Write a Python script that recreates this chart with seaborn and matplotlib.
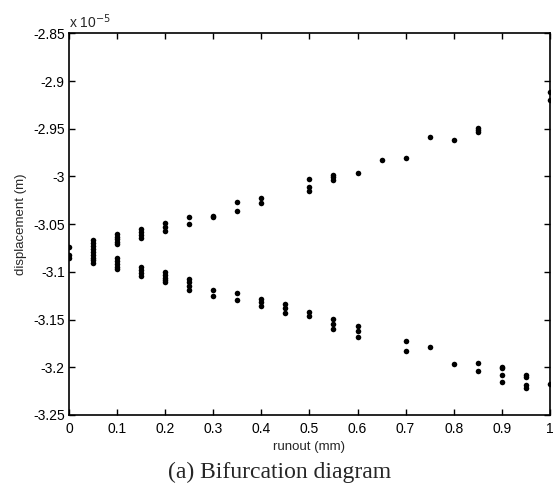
import numpy as np
import pandas as pd
import matplotlib
matplotlib.use("Agg")
import matplotlib.pyplot as plt
from matplotlib.ticker import FormatStrFormatter, MultipleLocator
import seaborn as sns

# runout (mm) and displacement (x 1e-5 m)
runout = [0, 0, 0,
          0.05, 0.05, 0.05, 0.05, 0.05, 0.05, 0.05, 0.05, 0.05,
          0.1, 0.1, 0.1, 0.1, 0.1, 0.1, 0.1, 0.1, 0.1, 0.1,
          0.15, 0.15, 0.15, 0.15, 0.15, 0.15, 0.15, 0.15,
          0.2, 0.2, 0.2, 0.2, 0.2, 0.2, 0.2, 0.2,
          0.25, 0.25, 0.25, 0.25, 0.25, 0.25,
          0.3, 0.3, 0.3, 0.3,
          0.35, 0.35, 0.35, 0.35,
          0.4, 0.4, 0.4, 0.4, 0.4,
          0.45, 0.45, 0.45,
          0.5, 0.5, 0.5, 0.5, 0.5,
          0.55, 0.55, 0.55, 0.55, 0.55, 0.55,
          0.6, 0.6, 0.6, 0.6,
          0.65,
          0.7, 0.7, 0.7,
          0.75, 0.75,
          0.8, 0.8,
          0.85, 0.85, 0.85, 0.85, 0.85,
          0.9, 0.9, 0.9, 0.9,
          0.95, 0.95, 0.95, 0.95,
          1, 1, 1]
displacement = [-3.074, -3.082, -3.085,
                -3.067, -3.070, -3.073, -3.076, -3.079, -3.082, -3.085, -3.088, -3.091,
                -3.060, -3.063, -3.066, -3.069, -3.071, -3.086, -3.089, -3.092, -3.095, -3.097,
                -3.055, -3.058, -3.061, -3.064, -3.095, -3.098, -3.101, -3.104,
                -3.049, -3.053, -3.057, -3.100, -3.103, -3.106, -3.109, -3.111,
                -3.042, -3.050, -3.107, -3.111, -3.115, -3.119,
                -3.041, -3.043, -3.119, -3.125,
                -3.027, -3.036, -3.122, -3.129,
                -3.023, -3.028, -3.128, -3.132, -3.136,
                -3.134, -3.138, -3.143,
                -3.003, -3.011, -3.015, -3.142, -3.146,
                -2.998, -3.001, -3.004, -3.149, -3.155, -3.160,
                -2.996, -3.157, -3.162, -3.168,
                -2.983,
                -2.981, -3.172, -3.183,
                -2.959, -3.179,
                -2.962, -3.197,
                -2.949, -2.951, -2.953, -3.195, -3.204,
                -3.200, -3.201, -3.208, -3.215,
                -3.208, -3.210, -3.219, -3.222,
                -2.912, -2.920, -3.217]

df = pd.DataFrame({"runout": runout, "displacement": displacement})

sns.set_style("ticks")
plt.rcParams["font.family"] = ["Liberation Sans", "DejaVu Sans"]
plt.rcParams["axes.unicode_minus"] = False

fig = plt.figure(figsize=(5.6, 4.97), dpi=100)
ax = fig.add_axes([0.123, 0.165, 0.859, 0.768])

sns.scatterplot(data=df, x="runout", y="displacement", color="black",
                s=16, edgecolor="black", linewidth=0, ax=ax, legend=False)

ax.set_xlim(0, 1)
ax.set_ylim(-3.25, -2.85)
ax.xaxis.set_major_locator(MultipleLocator(0.1))
ax.yaxis.set_major_locator(MultipleLocator(0.05))
ax.xaxis.set_major_formatter(FormatStrFormatter("%g"))
ax.yaxis.set_major_formatter(FormatStrFormatter("%g"))
ax.tick_params(direction="in", top=True, right=True, labelsize=10,
               length=4, width=1, colors="black", pad=3)
ax.tick_params(axis="x", pad=5)
for sp in ax.spines.values():
    sp.set_linewidth(1.2)
    sp.set_color("black")

ax.set_xlabel("runout (mm)", fontsize=9.5, labelpad=4)
ax.set_ylabel("displacement (m)", fontsize=9.5, labelpad=4)
ax.text(0.0, 1.006, "x 10$^{-5}$", transform=ax.transAxes, fontsize=10,
        ha="left", va="bottom")

fig.text(0.5, 0.05, "(a) Bifurcation diagram", ha="center", va="center",
         fontsize=17, family=["Liberation Serif", "DejaVu Serif"])

fig.savefig("out.png", dpi=100)
